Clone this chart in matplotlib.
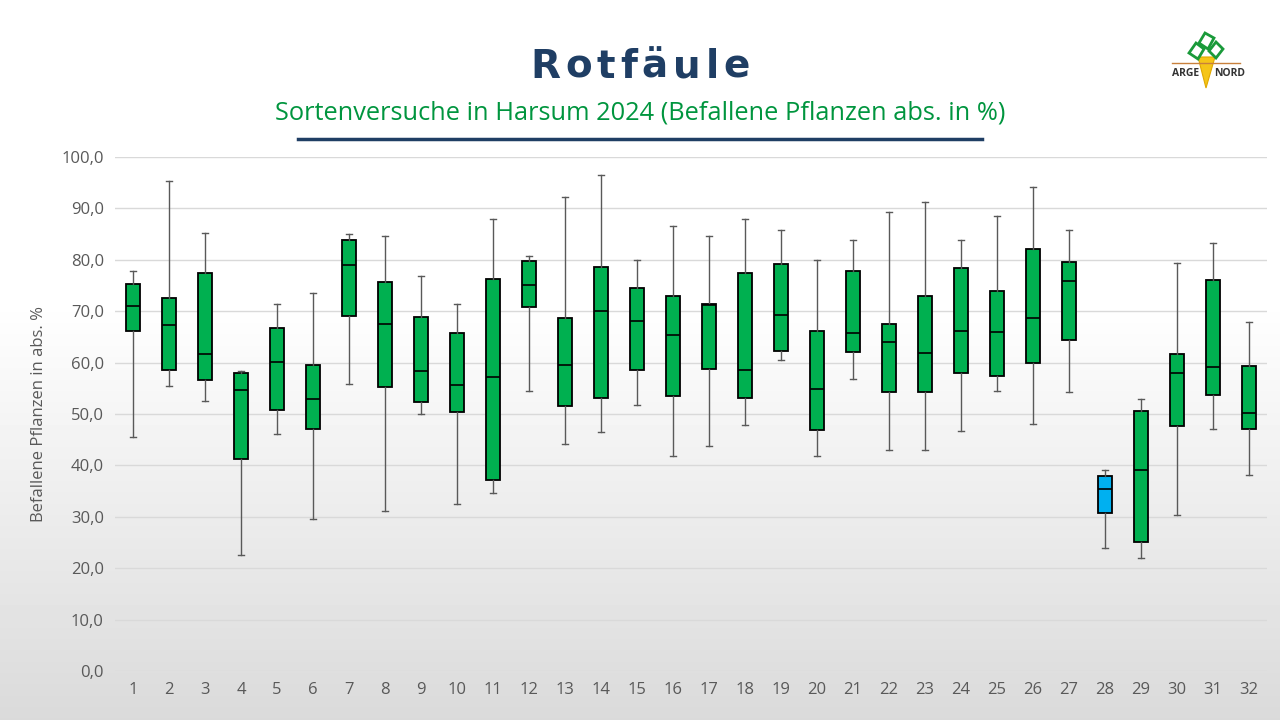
import numpy as np
import matplotlib
matplotlib.use("Agg")
import matplotlib.pyplot as plt
from matplotlib.patches import Polygon

plt.rcParams['font.family'] = ['Open Sans', 'DejaVu Sans']

# Werte
sorten = list(range(1, 33))
whi_hi = [77.8, 95.3, 85.2, 58.3, 71.4, 73.5, 85.1, 84.6, 76.9, 71.4, 87.9, 80.7, 92.2, 96.5, 80.0, 86.6,
          84.6, 87.9, 85.8, 80.0, 83.9, 89.3, 91.3, 83.9, 88.5, 94.1, 85.8, 39.1, 52.9, 79.4, 83.3, 67.8]
q3 = [75.3, 72.6, 77.5, 58.0, 66.7, 59.5, 83.8, 75.7, 68.9, 65.8, 76.3, 79.8, 68.7, 78.6, 74.5, 73.0,
      71.4, 77.5, 79.2, 66.2, 77.9, 67.5, 73.0, 78.4, 73.9, 82.1, 79.6, 37.9, 50.6, 61.7, 76.1, 59.4]
median = [71.0, 67.3, 61.7, 54.7, 60.2, 53.0, 79.0, 67.5, 58.4, 55.6, 57.2, 75.1, 59.6, 70.1, 68.1, 65.4,
          71.2, 58.5, 69.3, 54.8, 65.8, 64.0, 61.9, 66.1, 65.9, 68.7, 75.9, 35.4, 39.1, 58.0, 59.2, 50.1]
q1 = [66.1, 58.5, 56.6, 41.2, 50.8, 47.1, 69.1, 55.3, 52.3, 50.4, 37.2, 70.9, 51.6, 53.2, 58.5, 53.5,
      58.7, 53.2, 62.3, 46.9, 62.1, 54.3, 54.3, 58.0, 57.4, 60.0, 64.4, 30.7, 25.1, 47.6, 53.7, 47.0]
whi_lo = [45.6, 55.5, 52.6, 22.6, 46.2, 29.6, 55.8, 31.2, 50.0, 32.4, 34.7, 54.4, 44.1, 46.5, 51.8, 41.8,
          43.8, 47.9, 60.6, 41.8, 56.9, 42.9, 42.9, 46.7, 54.5, 48.1, 54.2, 23.9, 21.9, 30.4, 47.1, 38.2]
farben = ['#00b050'] * 32
farben[27] = '#00b0f0'

titel = "Rotfäule"
untertitel = "Sortenversuche in Harsum 2024 (Befallene Pflanzen abs. in %)"

fig = plt.figure(figsize=(12.8, 7.2), dpi=100)
W, H = 1280, 720

# Hintergrund mit Verlauf
bg = fig.add_axes([0, 0, 1, 1], zorder=-10)
grad = np.concatenate([np.ones(300), np.linspace(1, 0, 420)])
grad = 0.855 + 0.145 * grad
bg.imshow(np.tile(grad[:, None], (1, 10)), cmap='gray', vmin=0, vmax=1, aspect='auto', extent=[0, 1, 0, 1])
bg.axis('off')

ax = fig.add_axes([0.0898, 0.068, 0.9, 0.714])
ax.patch.set_alpha(0)

stats = []
for i in range(32):
    stats.append(dict(med=median[i], q1=q1[i], q3=q3[i], whislo=whi_lo[i], whishi=whi_hi[i], label=str(sorten[i])))

bp = ax.bxp(stats, positions=sorten, widths=0.4, capwidths=0.17, showfliers=False, patch_artist=True,
            boxprops=dict(edgecolor='black', linewidth=1.3),
            medianprops=dict(color='black', linewidth=1.2),
            whiskerprops=dict(color='#595959', linewidth=1),
            capprops=dict(color='#595959', linewidth=1))
for b, c in zip(bp['boxes'], farben):
    b.set_facecolor(c)

ax.set_xlim(0.5, 32.5)
ax.set_ylim(0, 100)
ax.set_yticks(np.arange(0, 101, 10))
ax.set_yticklabels([f"{v:.1f}".replace('.', ',') for v in np.arange(0, 101, 10)])
ax.yaxis.grid(True, color='#d9d9d9', linewidth=1)
ax.set_axisbelow(True)
for s in ax.spines.values():
    s.set_visible(False)
ax.tick_params(length=0, labelsize=12, colors='#595959', pad=8)
ax.set_ylabel("Befallene Pflanzen in abs. %", fontsize=12, color='#595959', labelpad=10)

# Titel mit Sperrung, Buchstabe fuer Buchstabe
r = fig.canvas.get_renderer()
kw = dict(fontsize=28, fontweight='bold', color='#1f3e64', va='baseline', ha='left', family='DejaVu Sans')
breiten = []
for ch in titel:
    t = fig.text(0, 0, ch, **kw)
    breiten.append(t.get_window_extent(r).width)
    t.remove()
gesamt = 220
sperr = (gesamt - sum(breiten)) / (len(titel) - 1)
x = 640 - gesamt / 2
for ch, b in zip(titel, breiten):
    fig.text(x / W, 1 - 78 / H, ch, **kw)
    x += b + sperr

fig.text(0.5, 1 - 120 / H, untertitel, ha='center', va='baseline', fontsize=18.3, color='#00953e')
fig.add_artist(plt.Line2D([298 / W, 982 / W], [1 - 139 / H, 1 - 139 / H], color='#1f3e64', linewidth=2.5))

# Logo (vereinfacht)
lg = fig.add_axes([1165 / W, 1 - 95 / H, 90 / W, 65 / H])
lg.set_xlim(0, 90)
lg.set_ylim(0, 65)
lg.axis('off')
lg.add_patch(Polygon([[33, 38], [50, 38], [41, 7]], closed=True, facecolor='#f5c518', edgecolor='#e0a800', linewidth=0.8))
lg.plot([7, 75], [32, 32], color='#c8803c', linewidth=1)
for pts in ([[24, 42], [31, 52], [39, 46], [33, 36]], [[34, 52], [40, 62], [49, 57], [43, 46]],
            [[44, 44], [51, 53], [58, 46], [51, 37]]):
    lg.add_patch(Polygon(pts, closed=True, facecolor='none', edgecolor='#1a9a3a', linewidth=2))
lg.text(21, 21, "ARGE", ha='center', va='center', fontsize=7.5, fontweight='bold', color='#333333')
lg.text(65, 21, "NORD", ha='center', va='center', fontsize=7.5, fontweight='bold', color='#333333')

fig.savefig("out.png", dpi=100)
